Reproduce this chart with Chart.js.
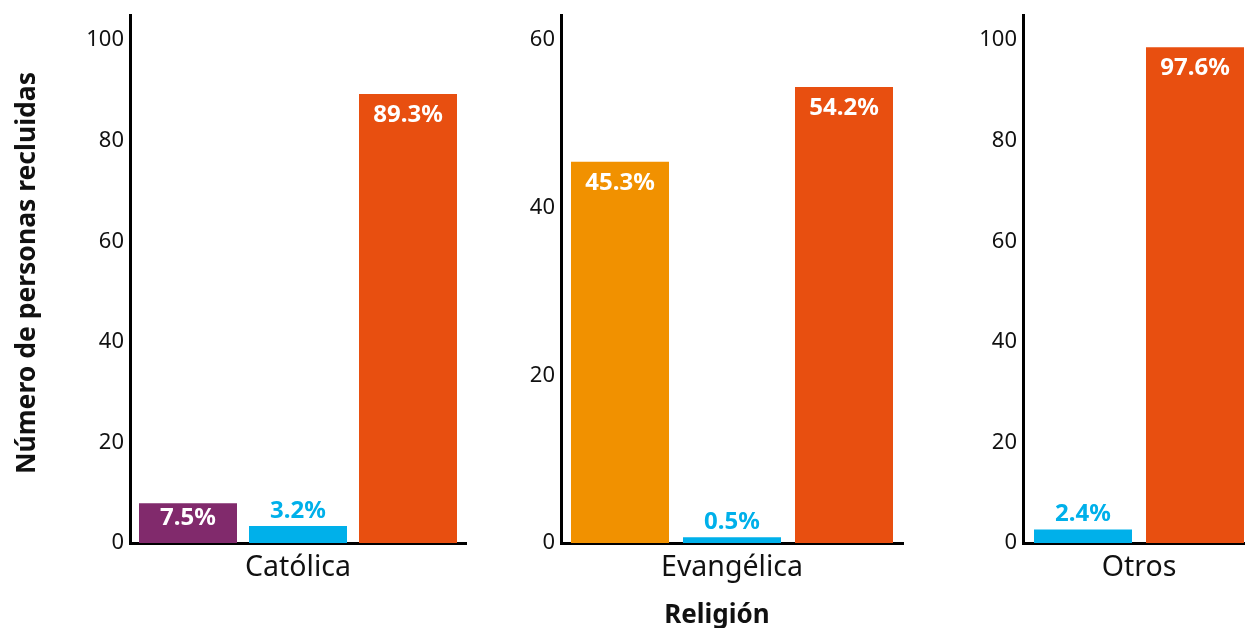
<!DOCTYPE html>
<html>
<head>
<meta charset="utf-8">
<script src="https://cdn.jsdelivr.net/npm/chart.js@4"></script>
<style>
html, body { margin:0; padding:0; width:1245px; height:628px; overflow:hidden; background:#fff; }
canvas { position:absolute; top:0; }
#xtitle { position:absolute; left:617px; width:200px; top:598px; line-height:30px; text-align:center;
  font-family:"Noto Sans", sans-serif; font-weight:700; font-size:26px; color:#111; }
#ytitle { position:absolute; left:25px; top:273px; width:500px; height:32px; margin-left:-250px; margin-top:-16px;
  line-height:32px; text-align:center; transform:rotate(-90deg);
  font-family:"Noto Sans", sans-serif; font-weight:700; font-size:26.5px; color:#111; white-space:nowrap; }
</style>
</head>
<body>
<canvas id="c1" width="480" height="628" style="left:0px"></canvas>
<canvas id="c2" width="420" height="628" style="left:500px"></canvas>
<canvas id="c3" width="300" height="628" style="left:960px"></canvas>
<div id="xtitle">Religión</div>
<div id="ytitle">Número de personas recluidas</div>
<script>
// ---- data ----
const categories = ['Católica', 'Evangélica', 'Otros'];
const catolicaValues = [7.9, 3.4, 89.3];
const catolicaLabels = ['7.5%', '3.2%', '89.3%'];
const evangelicaValues = [45.5, 0.7, 54.4];
const evangelicaLabels = ['45.3%', '0.5%', '54.2%'];
const otrosValues = [2.7, 98.6];
const otrosLabels = ['2.4%', '97.6%'];
const ticksCatolica = [0, 20, 40, 60, 80, 100];
const ticksEvangelica = [0, 20, 40, 60];
const ticksOtros = [0, 20, 40, 60, 80, 100];

// ---- styles ----
const PURPLE = '#812a6c', BLUE = '#00b0ea', RED = '#e84f10', ORANGE = '#f19100';
const FONT = '"Noto Sans", sans-serif';
const TEXT = '#111111';

const labelPlugin = {
  id: 'barLabels',
  afterDatasetsDraw(chart) {
    const ctx = chart.ctx;
    ctx.save();
    ctx.font = '700 24px ' + FONT;
    ctx.textAlign = 'center';
    ctx.textBaseline = 'middle';
    chart.data.datasets.forEach((ds, i) => {
      const meta = chart.getDatasetMeta(i);
      meta.data.forEach(bar => {
        const h = bar.base - bar.y;
        const txt = ds.label;
        if (h < 30) {
          ctx.fillStyle = ds.backgroundColor;
          ctx.fillText(txt, bar.x, bar.y - 15);
        } else {
          ctx.fillStyle = '#ffffff';
          ctx.fillText(txt, bar.x, bar.y + Math.min(21, h * 0.37));
        }
      });
    });
    ctx.restore();
  }
};

function makePanel(id, category, values, labels, colors, yTicks, yMax, opt) {
  const datasets = values.map((v, i) => ({
    label: labels[i],
    data: [v],
    backgroundColor: colors[i],
    borderWidth: 0,
    categoryPercentage: opt.cp,
    barPercentage: opt.bp
  }));
  new Chart(document.getElementById(id), {
    type: 'bar',
    data: { labels: [category], datasets },
    options: {
      responsive: false,
      animation: false,
      events: [],
      layout: { padding: { left: 0, top: 15, right: opt.padRight, bottom: 0 } },
      plugins: { legend: { display: false }, tooltip: { enabled: false } },
      scales: {
        x: {
          type: 'category',
          z: 1,
          grid: { display: false, drawTicks: false },
          border: { display: true, color: '#000', width: 3 },
          ticks: { color: TEXT, font: { family: FONT, size: 28.5 }, padding: 8, maxRotation: 0 },
          afterFit(s) { s.height = 85; }
        },
        y: {
          min: 0, max: yMax,
          z: 1,
          grid: { display: false, drawTicks: false },
          border: { display: true, color: '#000', width: 3 },
          ticks: { color: TEXT, font: { family: FONT, size: 22, lineHeight: 0.8 }, padding: 6, includeBounds: false },
          afterBuildTicks(s) { s.ticks = yTicks.map(v => ({ value: v })); },
          afterFit(s) { s.width = opt.yWidth; }
        }
      }
    },
    plugins: [labelPlugin]
  });
}

makePanel('c1', categories[0], catolicaValues, catolicaLabels, [PURPLE, BLUE, RED], ticksCatolica, 105,
  { cp: 330 / 336, bp: 98 / 110, padRight: 14, yWidth: 130 });
makePanel('c2', categories[1], evangelicaValues, evangelicaLabels, [ORANGE, BLUE, RED], ticksEvangelica, 63,
  { cp: 336 / 342, bp: 98 / 112, padRight: 17, yWidth: 61 });
makePanel('c3', categories[2], otrosValues, otrosLabels, [BLUE, RED], ticksOtros, 105,
  { cp: 224 / 232, bp: 98 / 112, padRight: 5, yWidth: 63 });
</script>
</body>
</html>
